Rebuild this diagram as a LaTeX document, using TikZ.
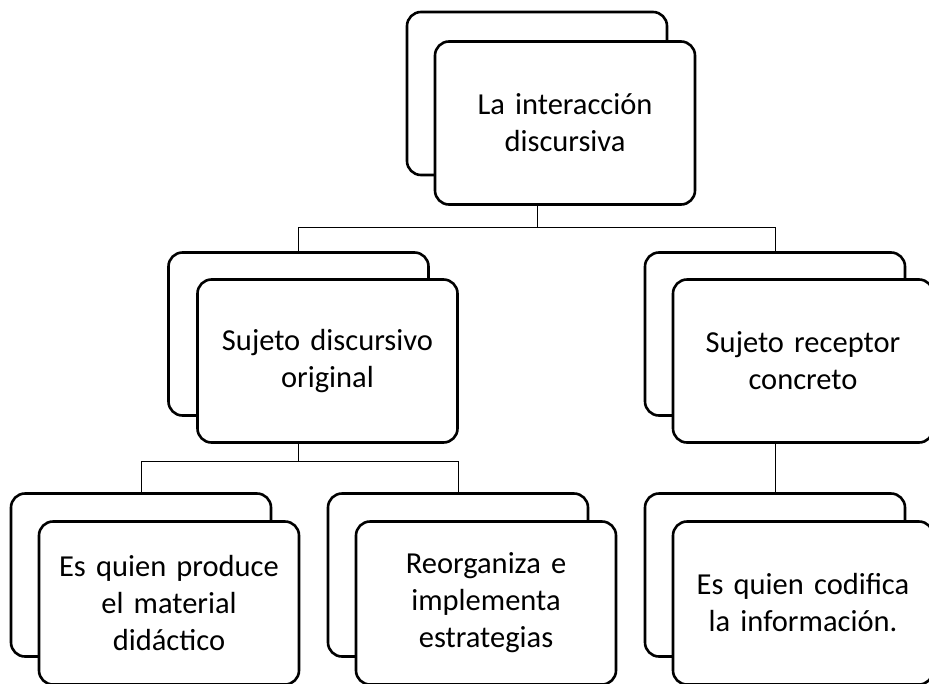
\documentclass[tikz,border=0pt]{standalone}
\usepackage{fontspec}
\setmainfont{Carlito}

\begin{document}
\begin{tikzpicture}[x=1pt,y=-1pt,line width=1pt,
    box/.style={rectangle,rounded corners=14pt,draw=black,fill=white,line width=2.6pt,
      minimum width=260pt,minimum height=163pt,inner sep=0pt,outer sep=0pt,
      align=center,text width=250pt,font=\fontsize{30.5}{37}\selectfont}]

\useasboundingbox (0,0) rectangle (929,683);
\clip (0,0) rectangle (929,683);

% top
\node[box] (Ib) at (537,93.5) {};
\node[box] (I) at (565,123) {La interacción\\discursiva};

% middle row
\node[box] (Sb) at (298.5,334) {};
\node[box] (S) at (327.5,361) {Sujeto discursivo\\original};
\node[box] (Rb) at (775,334) {};
\node[box] (R) at (803,361) {Sujeto receptor\\concreto};

% bottom row
\node[box] (Pb) at (141,575) {};
\node[box] (P) at (169,603) {Es quien produce\\el material\\didáctico};
\node[box] (Ob) at (458,575) {};
\node[box] (O) at (486,603) {Reorganiza e\\implementa\\estrategias};
\node[box] (Cb) at (775,575) {};
\node[box] (C) at (803,603) {Es quien codifica\\la información.};

\draw (I.south -| Ib.north) -- ++(0,23) -| (Sb.north);
\draw (I.south -| Ib.north) -- ++(0,23) -| (Rb.north);
\draw (S.south -| Sb.north) -- ++(0,19) -| (Pb.north);
\draw (S.south -| Sb.north) -- ++(0,19) -| (Ob.north);
\draw (R.south -| Rb.north) -- (Cb.north);

\end{tikzpicture}
\end{document}
